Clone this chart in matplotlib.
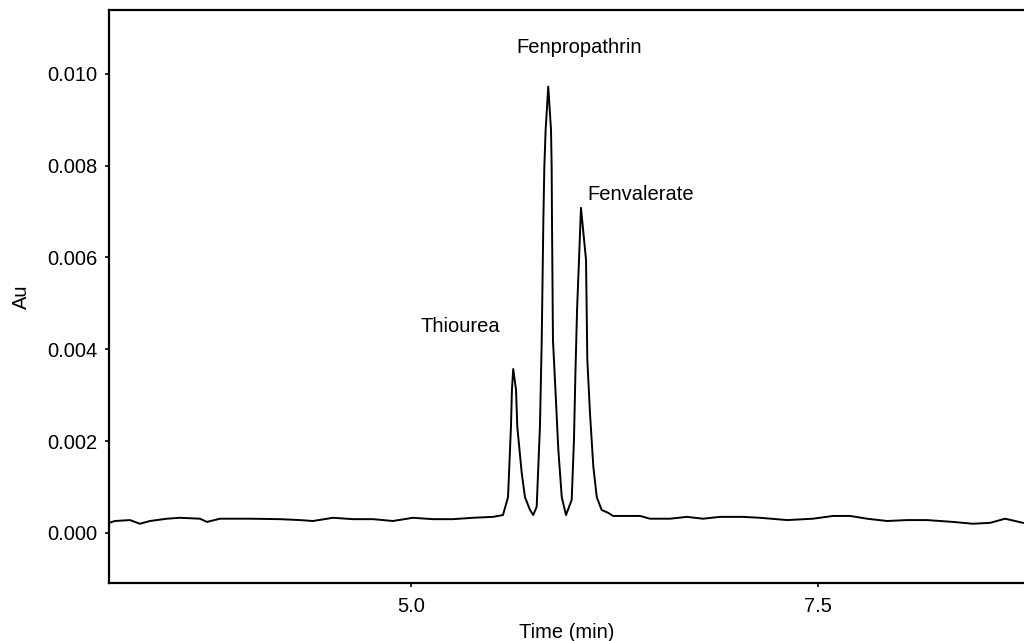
import matplotlib
matplotlib.use("Agg")
import matplotlib.pyplot as plt

plt.rcParams['font.family'] = ['Liberation Sans', 'DejaVu Sans']

# chromatogram trace (time in min, absorbance in Au)
time_min = [3.145, 3.182, 3.274, 3.335, 3.397, 3.501, 3.581, 3.704, 3.747, 3.827,
            4.011, 4.195, 4.318, 4.398, 4.521, 4.644, 4.767, 4.889, 5.012, 5.135,
            5.258, 5.381, 5.504, 5.565,
            # thiourea
            5.596, 5.614, 5.620, 5.628, 5.645, 5.653, 5.680, 5.700, 5.731, 5.751,
            # fenpropathrin
            5.772, 5.792, 5.803, 5.813, 5.819, 5.827, 5.843, 5.860, 5.864, 5.866,
            5.872, 5.885, 5.905, 5.926, 5.952,
            # fenvalerate
            5.987, 6.001, 6.010, 6.020, 6.032, 6.044, 6.075, 6.083, 6.100, 6.120,
            6.141, 6.171, 6.210,
            6.241, 6.407, 6.468, 6.591, 6.695, 6.794, 6.898, 7.039, 7.144, 7.310,
            7.469, 7.592, 7.697, 7.801, 7.924, 8.047, 8.170, 8.329, 8.452, 8.557,
            8.649, 8.759]
absorb = [0.00022, 0.00026, 0.00028, 0.00020, 0.00026, 0.00031, 0.00033, 0.00031, 0.00024, 0.00031,
          0.00031, 0.00030, 0.00028, 0.00026, 0.00033, 0.00030, 0.00030, 0.00026, 0.00033, 0.00030,
          0.00030, 0.00033, 0.00035, 0.00039,
          0.00078, 0.00231, 0.00312, 0.00357, 0.00312, 0.00231, 0.00131, 0.00078, 0.00050, 0.00039,
          0.00057, 0.00231, 0.00420, 0.00682, 0.00797, 0.00878, 0.00972, 0.00878, 0.00797, 0.00682,
          0.00420, 0.00327, 0.00181, 0.00078, 0.00039,
          0.00072, 0.00203, 0.00349, 0.00486, 0.00595, 0.00708, 0.00595, 0.00377, 0.00257, 0.00144,
          0.00078, 0.00050, 0.00044,
          0.00037, 0.00037, 0.00031, 0.00031, 0.00035, 0.00031, 0.00035, 0.00035, 0.00033, 0.00028,
          0.00031, 0.00037, 0.00037, 0.00031, 0.00026, 0.00028, 0.00028, 0.00024, 0.00020, 0.00022,
          0.00031, 0.00022]

peak_names = ["Thiourea", "Fenpropathrin", "Fenvalerate"]
label_t = [5.30, 6.03, 6.41]
label_v = [0.00449, 0.01057, 0.00736]

x_ticks = [5.0, 7.5]
y_ticks = [0.000, 0.002, 0.004, 0.006, 0.008, 0.010]

fs = 14.5

fig = plt.figure(figsize=(10.24, 6.41), dpi=100)
ax = fig.add_axes([0.1064, 0.0905, 0.8936, 0.894])

ax.plot(time_min, absorb, color='black', lw=1.4)

for name, t, v in zip(peak_names, label_t, label_v):
    ax.text(t, v, name, ha='center', va='center', fontsize=fs)

ax.set_xlim(3.145, 8.765)
ax.set_ylim(-0.00109, 0.01139)
ax.set_xticks(x_ticks)
ax.set_xticklabels(["%.1f" % v for v in x_ticks])
ax.set_yticks(y_ticks)
ax.set_yticklabels(["%.3f" % v for v in y_ticks])
ax.tick_params(labelsize=fs, length=3, width=1.2, direction='out')
ax.tick_params(axis='x', pad=7)
ax.tick_params(axis='y', pad=5)

ax.set_xlabel("Time (min)", fontsize=fs, labelpad=5)
ax.set_ylabel("Au", fontsize=fs, labelpad=12)

for side in ['left', 'bottom', 'top']:
    ax.spines[side].set_linewidth(1.6)
ax.spines['right'].set_visible(False)

fig.savefig("out.png", dpi=100)
